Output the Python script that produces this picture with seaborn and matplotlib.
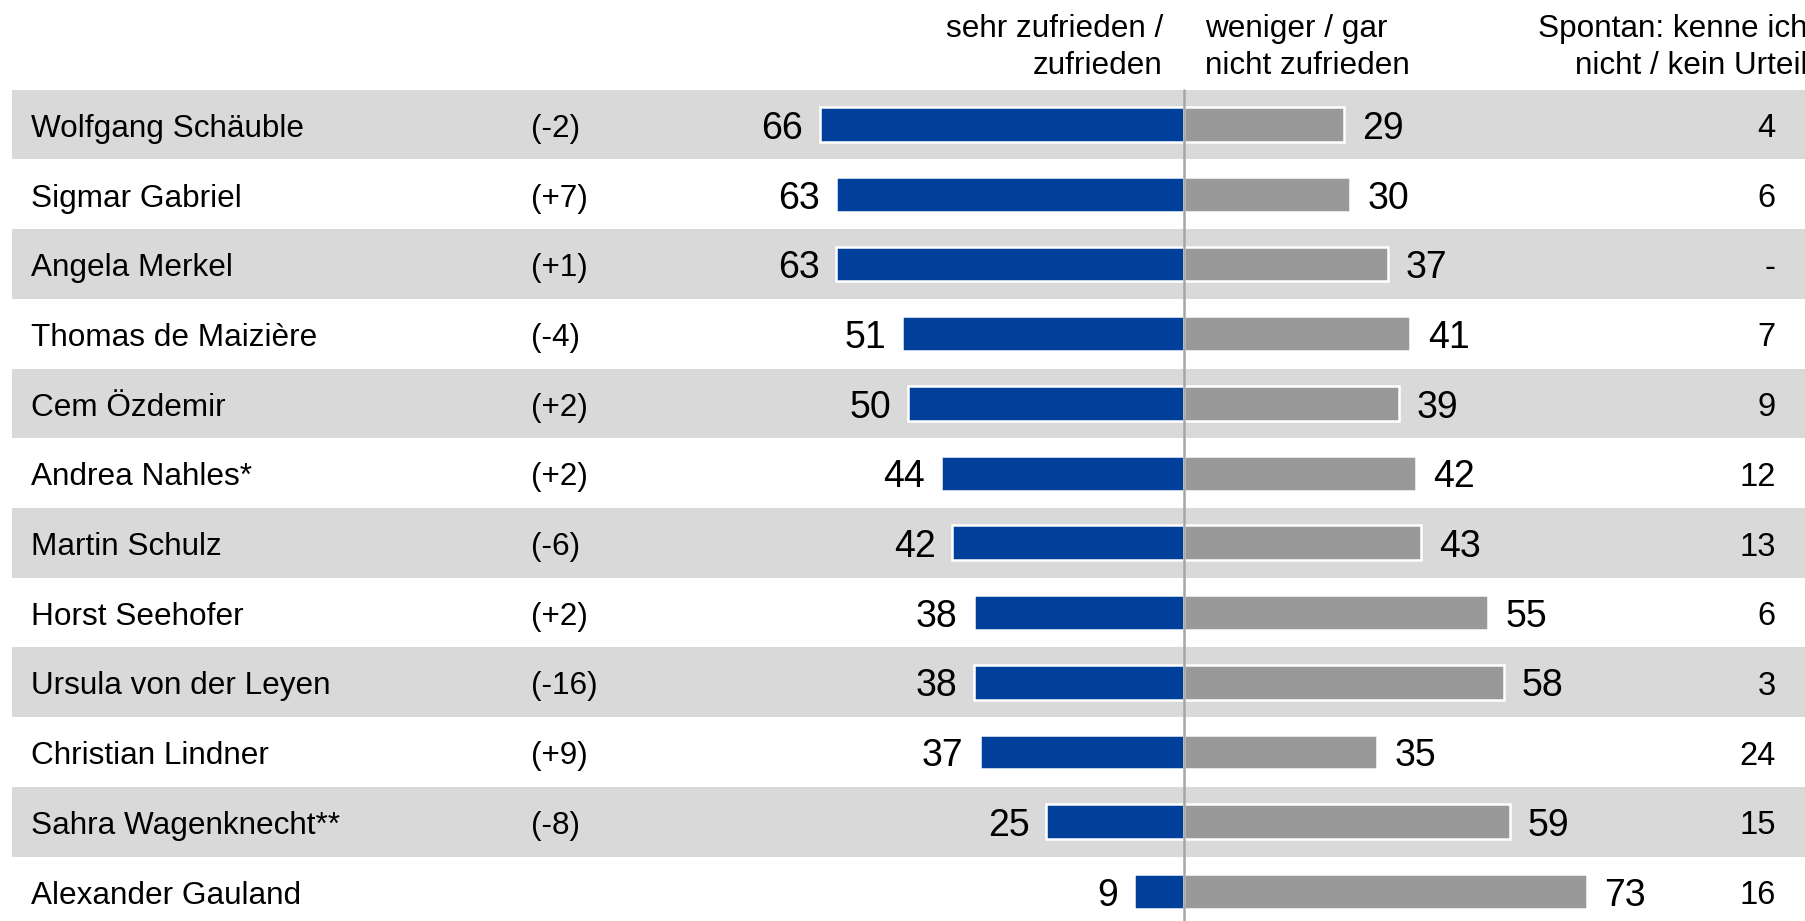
import matplotlib
matplotlib.use("Agg")
import matplotlib.pyplot as plt
import seaborn as sns
import pandas as pd

names = ["Wolfgang Schäuble", "Sigmar Gabriel", "Angela Merkel", "Thomas de Maizière",
         "Cem Özdemir", "Andrea Nahles*", "Martin Schulz", "Horst Seehofer",
         "Ursula von der Leyen", "Christian Lindner", "Sahra Wagenknecht**", "Alexander Gauland"]
changes = ["(-2)", "(+7)", "(+1)", "(-4)", "(+2)", "(+2)", "(-6)", "(+2)", "(-16)", "(+9)", "(-8)", ""]
zufrieden = [66, 63, 63, 51, 50, 44, 42, 38, 38, 37, 25, 9]
nicht_zufrieden = [29, 30, 37, 41, 39, 42, 43, 55, 58, 35, 59, 73]
kein_urteil = ["4", "6", "-", "7", "9", "12", "13", "6", "3", "24", "15", "16"]

header_left = "sehr zufrieden /\nzufrieden"
header_mid = "weniger / gar\nnicht zufrieden"
header_right = "Spontan: kenne ich\nnicht / kein Urteil"

BLUE = "#00409a"
GRAY = "#999999"
BAND = "#d9d9d9"

sns.set_theme(style="white")
plt.rcParams["font.family"] = ["Liberation Sans", "DejaVu Sans"]

df = pd.DataFrame({"name": names,
                   "neg": [-v for v in zufrieden],
                   "gray": nicht_zufrieden})

fig = plt.figure(figsize=(18.06, 9.21), dpi=100)
ax = fig.add_axes([0, 0, 1, 1])

n = len(names)
xmin, xmax = -214.5, 112.7
band_left = -212.4

sns.barplot(data=df, x="neg", y="name", orient="h", color=BLUE, width=0.5,
            edgecolor="white", linewidth=1.8, saturation=1, ax=ax, zorder=2)
sns.barplot(data=df, x="gray", y="name", orient="h", color=GRAY, width=0.5,
            edgecolor="white", linewidth=1.8, saturation=1, ax=ax, zorder=2)

for i in range(n):
    if i % 2 == 0:
        ax.fill_between([band_left, xmax], i - 0.5, i + 0.5, color=BAND, zorder=0, lw=0)

ax.set_xlim(xmin, xmax)
ax.set_ylim(11.425, -1.788)

ax.plot([0, 0], [-0.5, 11.425], color="#a6a6a6", lw=1.8, zorder=3)

dy = 0.06
for i in range(n):
    ax.text(-208.9, i + dy, names[i], ha="left", va="center", fontsize=22.7, color="black")
    ax.text(-118.3, i + dy, changes[i], ha="left", va="center", fontsize=22.7, color="black")
    ax.text(-zufrieden[i] - 3.0, i + dy, str(zufrieden[i]), ha="right", va="center",
            fontsize=27, color="black")
    ax.text(nicht_zufrieden[i] + 3.2, i + dy, str(nicht_zufrieden[i]), ha="left", va="center",
            fontsize=27, color="black")
    ax.text(107.2, i + dy, kein_urteil[i], ha="right", va="center", fontsize=23.5, color="black")

hy = -1.11
ax.text(-3.8, hy, header_left, ha="right", va="center", multialignment="right",
        fontsize=22.7, linespacing=1.32, color="black")
ax.text(3.8, hy, header_mid, ha="left", va="center", multialignment="left",
        fontsize=22.7, linespacing=1.32, color="black")
ax.text(113.0, hy, header_right, ha="right", va="center", multialignment="right",
        fontsize=22.7, linespacing=1.32, color="black")

ax.set_axis_off()
fig.savefig("out.png", dpi=100)
